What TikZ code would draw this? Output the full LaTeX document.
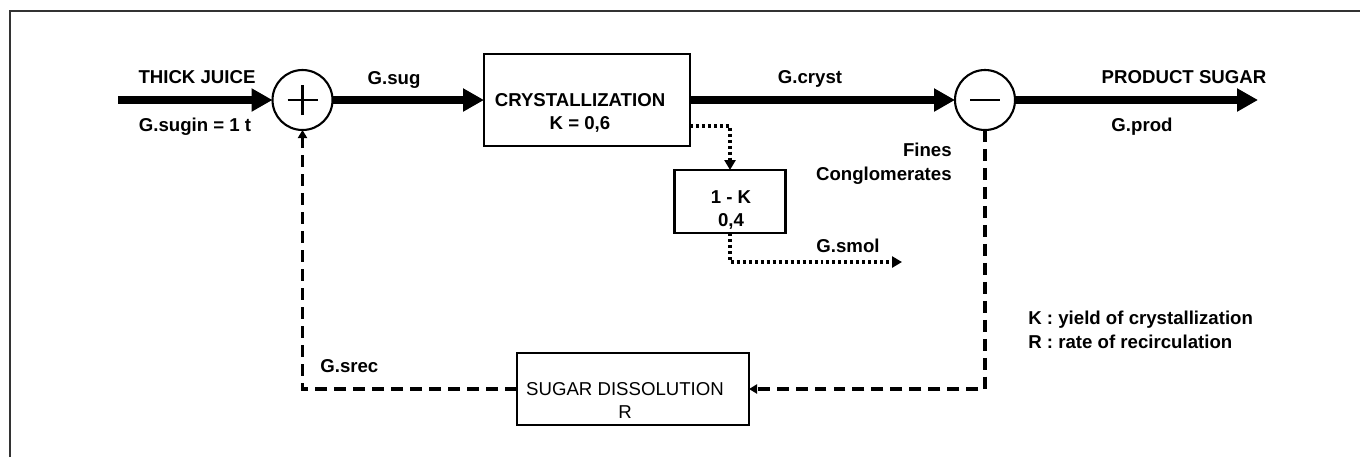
\documentclass[tikz,border=0pt]{standalone}
\usepackage{fontspec}
\setmainfont{Liberation Sans}
\usepackage{tikz}
\usetikzlibrary{arrows.meta,positioning,calc}

\begin{document}
\begin{tikzpicture}[
    font=\fontsize{10.6}{13.4}\selectfont\bfseries,
    procbox/.style={rectangle, draw=black, line width=1.4pt, outer sep=0pt, inner sep=0pt},
    junction/.style={circle, draw=black, line width=1.2pt, minimum size=1.2cm, outer sep=0pt, inner sep=0pt},
    sign/.style={line width=1.2pt},
    flow/.style={-{Triangle[length=0.42cm, width=0.44cm]}, line width=4pt},
    dotflow/.style={-{Triangle[length=0.2cm, width=0.22cm]}, line width=1.8pt, dash pattern=on 1.7pt off 1.7pt},
    dashflow/.style={-{Triangle[length=0.16cm, width=0.18cm]}, line width=1.8pt, dash pattern=on 6.8pt off 4pt},
    boxtext/.style={align=center, inner sep=0pt, anchor=north},
    lbl/.style={inner sep=0pt, anchor=base},
    frame/.style={draw=black!80, line width=1.1pt}
]
    \useasboundingbox (0,0) rectangle (27.2,-9.14);
    \draw [frame] (0.2,-9.14) -- (0.2,-0.22) -- (27.2,-0.22);

    \coordinate (juicein) at (2.36,-2);
    \node [junction] (sumin) at (6.05,-2) {};
    \node [procbox, minimum width=4.12cm, minimum height=1.84cm, right=3.03cm of sumin] (cryst) {};
    \node [junction, right=5.3cm of cryst] (diff) {};
    \coordinate (prodout) at (25.16,-2);
    \node [procbox, minimum width=2.22cm, minimum height=1.26cm] (onek) at (14.6,-4.03) {};
    \coordinate (smolout) at (18.04,-5.24);
    \node [procbox, minimum width=4.64cm, minimum height=1.44cm] (dissol) at (12.66,-7.78) {};

    \draw [sign] ([xshift=-0.3cm]sumin.center) -- ([xshift=0.3cm]sumin.center);
    \draw [sign] ([yshift=-0.3cm]sumin.center) -- ([yshift=0.3cm]sumin.center);
    \draw [sign] ([xshift=-0.3cm]diff.center) -- ([xshift=0.3cm]diff.center);

    \node [boxtext] (crysttxt) at (11.6,-1.86) {CRYSTALLIZATION\\K = 0,6};
    \node [boxtext] (onektxt) at (14.62,-3.8) {1 - K\\0,4};
    \node [boxtext, font=\fontsize{10.6}{13.4}\selectfont] (dissoltxt) at (12.5,-7.64) {SUGAR DISSOLUTION\\R};

    \draw [flow] (juicein) -- (sumin);
    \draw [flow] (sumin) -- (cryst);
    \draw [flow] (cryst) -- (diff);
    \draw [flow] (diff) -- (prodout);
    \draw [dotflow] ([yshift=-0.52cm]cryst.east) -| (onek.north);
    \draw [dotflow] (onek.south) |- (smolout);
    \draw [dashflow] (diff.south) |- (dissol.east);
    \draw [dashflow] (dissol.west) -| (sumin.south);

    \node [lbl] (juicelbl) at (3.94,-1.66) {THICK JUICE};
    \node [lbl] (suginlbl) at (3.9,-2.62) {G.sugin = 1 t};
    \node [lbl] (suglbl) at (7.88,-1.68) {G.sug};
    \node [lbl] (crystlbl) at (16.2,-1.66) {G.cryst};
    \node [lbl] (prodtitle) at (23.68,-1.66) {PRODUCT SUGAR};
    \node [lbl] (prodlbl) at (22.84,-2.62) {G.prod};
    \node [lbl] (smollbl) at (16.96,-5.04) {G.smol};
    \node [lbl, anchor=base west] (sreclbl) at (6.4,-7.44) {G.srec};
    \node [align=right, inner sep=0pt, anchor=north east] (fines) at (19.04,-2.86) {Fines\\Conglomerates};
    \node [align=left, inner sep=0pt, anchor=north west] (legend) at (20.56,-6.22) {K : yield of crystallization\\R : rate of recirculation};
\end{tikzpicture}
\end{document}
